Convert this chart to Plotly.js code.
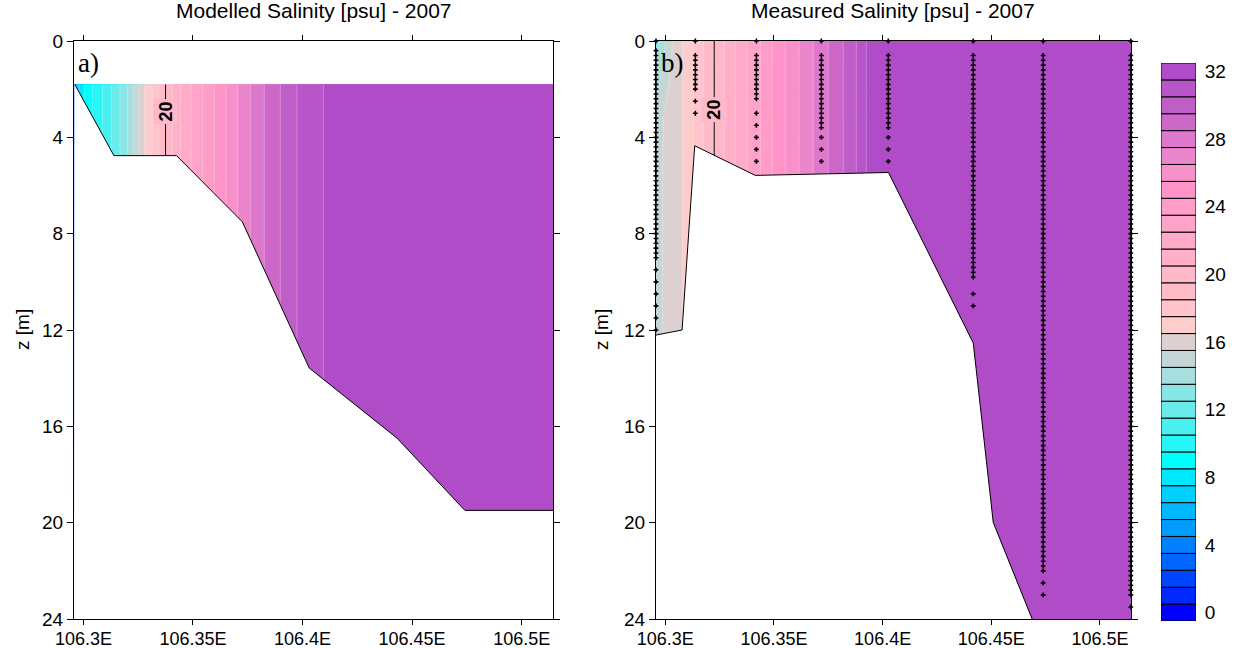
<!DOCTYPE html>
<html>
<head>
<meta charset="utf-8">
<script src="https://cdn.plot.ly/plotly-3.0.1.min.js"></script>
<style>html,body{margin:0;padding:0;background:#fff;}#chart{width:1234px;height:648px;}</style>
</head>
<body>
<div id="chart"></div>
<script>
// ---------------- data ----------------
const lonTicks = [106.3, 106.35, 106.4, 106.45, 106.5];
const lonTickText = ['106.3E', '106.35E', '106.4E', '106.45E', '106.5E'];
const depthTicks = [0, 4, 8, 12, 16, 20, 24];
const lonRange = [106.2957, 106.5143];
const depthRange = [24, 0];

// salinity levels (colour classes) and their colours
const levels = [0,1,2,3,4,5,6,7,8,9,10,11,12,13,14,15,16,17,18,19,20,21,22,23,24,25,26,27,28,29,30,31,32];
const levelColors = ['#0000FF','#0028FF','#0044FF','#0066FF','#0080FF','#009CFF','#00B8FF','#00D0FF','#00E8FF','#00FFFF',
  '#28F6F6','#48F0F0','#6AEAEA','#88E6E6','#A8DEDE','#C4D6D6','#DDD0D0','#FFCCCC','#FFC4CC','#FFBCC8',
  '#FFB8C8','#FFB0C8','#FFAAC8','#FFA4C8','#FF9CC8','#FF94C8','#F890CA','#EC86CC','#DE78CC','#CE68C8',
  '#C05EC8','#B855C8','#B04CC8'];
const colorbarTicks = [0, 4, 8, 12, 16, 20, 24, 28, 32];
const labelLevel = 20;

// a) modelled section: salinity along the transect (same at every model depth)
const lonModel = [106.29604, 106.29695, 106.29800, 106.30027, 106.30410, 106.30865, 106.31275, 106.31667,
  106.32004, 106.32277, 106.32532, 106.32791, 106.33142, 106.33443, 106.33748, 106.34067, 106.34431,
  106.34918, 106.35446, 106.35979, 106.36512, 106.37040, 106.37618, 106.38256, 106.38985, 106.39745,
  106.40956, 106.41717, 106.51430];
const salModel = [6.5, 7, 8, 9, 10, 11, 12, 13, 14, 15, 16, 17, 18, 19, 20, 21, 22, 23, 24, 25, 26, 27, 28,
  29, 30, 31, 32, 32.4, 32.5];
const depthModel = [1.8, 19.49];
const labelDepthModel = 2.95;
const bedLonModel = [106.29604, 106.31393, 106.34249, 106.37254, 106.40305, 106.44312, 106.47408, 106.51430];
const bedDepthModel = [1.8, 4.76, 4.76, 7.51, 13.58, 16.49, 19.49, 19.49];

// b) measured section
const lonMeas = [106.2957, 106.2972, 106.2986, 106.3000, 106.3032, 106.3078, 106.3129, 106.3175, 106.3225,
  106.3271, 106.3322, 106.3377, 106.3437, 106.3492, 106.3552, 106.3616, 106.3681, 106.3750, 106.3819,
  106.3879, 106.3925, 106.4081, 106.5143];
const depthMeas = [0, 1, 2, 3, 5, 24];
const salMeas0m = [13.6, 14.0, 14.5, 15.0, 16.0, 17, 18, 19, 20, 21, 22, 23, 24, 25, 26, 27, 28, 29, 30, 31, 32, 32.5, 32.5];
const salMeas1m = [14.0, 14.4, 14.9, 15.3, 16.1, 17, 18, 19, 20, 21, 22, 23, 24, 25, 26, 27, 28, 29, 30, 31, 32, 32.5, 32.5];
const salMeas2m = [14.9, 15.1, 15.5, 15.8, 16.3, 17, 18, 19, 20, 21, 22, 23, 24, 25, 26, 27, 28, 29, 30, 31, 32, 32.5, 32.5];
const salMeas3m = [15.3, 15.5, 15.9, 16.1, 16.4, 17, 18, 19, 20, 21, 22, 23, 24, 25, 26, 27, 28, 29, 30, 31, 32, 32.5, 32.5];
const salMeas5m = [15.5, 15.8, 16.0, 16.3, 16.6, 17, 18, 19, 20, 21, 22, 23, 24, 25, 26, 27, 28, 29, 30, 31, 32, 32.5, 32.5];
const salMeas24m = [15.5, 15.8, 16.0, 16.3, 16.6, 17, 18, 19, 20, 21, 22, 23, 24, 25, 26, 27, 28, 29, 30, 31, 32, 32.5, 32.5];
const labelDepthMeas = 2.84;
const bedLonMeas = [106.2957, 106.3077, 106.3135, 106.3414, 106.4027, 106.4417, 106.4509, 106.4688];
const bedDepthMeas = [12.21, 12.0, 4.35, 5.58, 5.46, 12.54, 19.99, 24.0];

// CTD stations and their sample depths
const stationLon = [106.2957, 106.3138, 106.3419, 106.3718, 106.4026, 106.4417, 106.4739, 106.5142];
const st1Depth = [0,0.4,0.6,0.8,1,1.2,1.4,1.6,1.8,2,2.2,2.4,2.6,2.8,3,3.2,3.4,3.6,3.8,4,4.2,4.4,4.6,4.8,5,5.2,5.4,5.6,5.8,6,
  6.2,6.4,6.6,6.8,7,7.2,7.4,7.6,7.8,8,8.2,8.4,8.6,8.8,9,9.5,10,10.5,11,11.5,12];
const st2Depth = [0,0.6,0.8,1,1.2,1.4,1.6,1.8,2,2.5,3];
const st3Depth = [0,0.6,0.8,1,1.2,1.4,1.6,1.8,2,2.2,2.4,3,3.5,4,4.5,5];
const st4Depth = [0,0.6,0.8,1,1.2,1.4,1.6,1.8,2,2.2,2.4,2.6,2.8,3,3.2,3.4,3.6,4,4.5,5];
const st5Depth = [0,0.6,0.8,1,1.2,1.4,1.6,1.8,2,2.2,2.4,2.6,2.8,3,3.2,3.4,3.6,4,4.5,5];
const st6Depth = [0,0.6,0.8,1,1.2,1.4,1.6,1.8,2,2.2,2.4,2.6,2.8,3,3.2,3.4,3.6,3.8,4,4.2,4.4,4.6,4.8,5,5.2,5.4,5.6,5.8,6,
  6.2,6.4,6.6,6.8,7,7.2,7.4,7.6,7.8,8,8.2,8.4,8.6,8.8,9,9.2,9.4,9.6,9.8,10.5,11];
const st7Depth = [0,0.6,0.8,1,1.2,1.4,1.6,1.8,2,2.2,2.4,2.6,2.8,3,3.2,3.4,3.6,3.8,4,4.2,4.4,4.6,4.8,5,5.2,5.4,5.6,5.8,6,
  6.2,6.4,6.6,6.8,7,7.2,7.4,7.6,7.8,8,8.2,8.4,8.6,8.8,9,9.2,9.4,9.6,9.8,10,10.2,10.4,10.6,10.8,11,11.2,11.4,11.6,11.8,12,
  12.2,12.4,12.6,12.8,13,13.2,13.4,13.6,13.8,14,14.2,14.4,14.6,14.8,15,15.2,15.4,15.6,15.8,16,16.2,16.4,16.6,16.8,17,
  17.2,17.4,17.6,17.8,18,18.2,18.4,18.6,18.8,19,19.2,19.4,19.6,19.8,20,20.2,20.4,20.6,20.8,21,21.2,21.4,21.6,21.8,22,22.5,23];
const st8Depth = [0,0.6,0.8,1,1.2,1.4,1.6,1.8,2,2.2,2.4,2.6,2.8,3,3.2,3.4,3.6,3.8,4,4.2,4.4,4.6,4.8,5,5.2,5.4,5.6,5.8,6,
  6.2,6.4,6.6,6.8,7,7.2,7.4,7.6,7.8,8,8.2,8.4,8.6,8.8,9,9.2,9.4,9.6,9.8,10,10.2,10.4,10.6,10.8,11,11.2,11.4,11.6,11.8,12,
  12.2,12.4,12.6,12.8,13,13.2,13.4,13.6,13.8,14,14.2,14.4,14.6,14.8,15,15.2,15.4,15.6,15.8,16,16.2,16.4,16.6,16.8,17,
  17.2,17.4,17.6,17.8,18,18.2,18.4,18.6,18.8,19,19.2,19.4,19.6,19.8,20,20.2,20.4,20.6,20.8,21,21.2,21.4,21.6,21.8,22,
  22.2,22.4,22.6,22.8,23,23.5];
const stationDepths = [st1Depth, st2Depth, st3Depth, st4Depth, st5Depth, st6Depth, st7Depth, st8Depth];

// ---------------- build traces ----------------
const FONT = 'Liberation Sans, Arial, sans-serif';
const nLev = levelColors.length;
const stepScale = [];
levelColors.forEach((c, k) => { stepScale.push([k / nLev, c]); stepScale.push([(k + 1) / nLev, c]); });

function fillContour(x, y, z, xa, ya) {
  return {type: 'contour', x: x, y: y, z: z, xaxis: xa, yaxis: ya,
    zmin: 0, zmax: nLev, autocontour: false,
    contours: {start: 0, end: nLev, size: 1, coloring: 'fill', showlines: true},
    line: {width: 0.6, color: 'rgba(255,255,255,0.45)', smoothing: 0},
    colorscale: stepScale, showscale: false, hoverinfo: 'skip'};
}
function lineContour(x, y, z, xa, ya) {
  return {type: 'contour', x: x, y: y, z: z, xaxis: xa, yaxis: ya, autocontour: false,
    contours: {start: labelLevel, end: labelLevel, size: 1, coloring: 'none', showlabels: false},
    line: {width: 1, color: '#000'}, showscale: false, hoverinfo: 'skip'};
}
// sea bed: white mask below the bottom (closed below the axis floor) + black bottom line
const belowFloor = depthRange[0] + 1;
function bedMask(lon, dep, closeLon, xa, ya) {
  return {type: 'scatter', mode: 'none', x: lon.concat(closeLon), y: dep.concat(closeLon.map(() => belowFloor)),
    fill: 'toself', fillcolor: '#ffffff', line: {width: 0}, xaxis: xa, yaxis: ya,
    hoverinfo: 'skip', showlegend: false};
}
function bedLine(lon, dep, xa, ya) {
  return {type: 'scatter', mode: 'lines', x: lon, y: dep, line: {color: '#000', width: 1}, xaxis: xa, yaxis: ya,
    hoverinfo: 'skip', showlegend: false};
}

const zModel = depthModel.map(() => salModel);
const zMeas = [salMeas0m, salMeas1m, salMeas2m, salMeas3m, salMeas5m, salMeas24m];

const dotX = [], dotY = [];
stationDepths.forEach((ds, i) => ds.forEach(d => { dotX.push(stationLon[i]); dotY.push(d); }));

const traces = [
  fillContour(lonModel, depthModel, zModel, 'x', 'y'),
  lineContour(lonModel, depthModel, zModel, 'x', 'y'),
  bedMask(bedLonModel, bedDepthModel, [lonRange[1], lonRange[0]], 'x', 'y'),
  bedLine(bedLonModel, bedDepthModel, 'x', 'y'),
  fillContour(lonMeas, depthMeas, zMeas, 'x2', 'y2'),
  lineContour(lonMeas, depthMeas, zMeas, 'x2', 'y2'),
  bedMask(bedLonMeas, bedDepthMeas, [bedLonMeas[bedLonMeas.length - 1], lonRange[0]], 'x2', 'y2'),
  bedLine(bedLonMeas, bedDepthMeas, 'x2', 'y2'),
  {type: 'scatter', mode: 'markers', x: dotX, y: dotY, xaxis: 'x2', yaxis: 'y2', cliponaxis: false,
    marker: {symbol: 'cross', size: 4, color: '#000', line: {width: 0}}, hoverinfo: 'skip', showlegend: false},
  {type: 'bar', x: levels.map(() => 0), y: levels.map(() => 1), base: levels.map(v => v - 0.5), width: 1,
    xaxis: 'x3', yaxis: 'y3', marker: {color: levelColors, line: {color: '#000', width: 1}},
    hoverinfo: 'skip', showlegend: false}
];

// ---------------- layout (plot edges on whole pixels) ----------------
const W = 1234, H = 648;
const px = v => v / W, py = v => 1 - v / H;
const TICKFONT = {family: FONT, size: 19, color: '#000'};
const XTICKFONT = {family: FONT, size: 18, color: '#000'};
const xAxisBase = {range: lonRange, tickvals: lonTicks, ticktext: lonTickText, ticks: 'outside', ticklen: 5,
  tickwidth: 1, tickcolor: '#000', mirror: 'ticks', showline: true, linecolor: '#000', linewidth: 1,
  showgrid: false, zeroline: false, tickfont: XTICKFONT, ticklabelstandoff: -2, fixedrange: true};
const yAxisBase = {range: depthRange, tickvals: depthTicks, ticks: 'outside', ticklen: 6, tickwidth: 1,
  tickcolor: '#000', mirror: 'ticks', showline: true, linecolor: '#000', linewidth: 1, showgrid: false,
  zeroline: false, tickfont: TICKFONT, fixedrange: true};

const label20 = (xref, yref, lon, depth) => ({text: String(labelLevel), xref: xref, yref: yref, x: lon, y: depth,
  textangle: -90, showarrow: false, xanchor: 'center', yanchor: 'middle', bgcolor: levelColors[labelLevel],
  borderpad: 2, font: {family: FONT, size: 18, color: '#000', weight: 'bold'}});

const layout = {
  width: W, height: H, margin: {l: 0, r: 0, t: 0, b: 0}, paper_bgcolor: '#fff', plot_bgcolor: '#fff',
  showlegend: false, hovermode: false, font: {family: FONT, color: '#000'},
  xaxis: Object.assign({}, xAxisBase, {domain: [px(74), px(553)], anchor: 'y'}),
  yaxis: Object.assign({}, yAxisBase, {domain: [py(619), py(41)], anchor: 'x'}),
  xaxis2: Object.assign({}, xAxisBase, {domain: [px(656), px(1131)], anchor: 'y2'}),
  yaxis2: Object.assign({}, yAxisBase, {domain: [py(619), py(41)], anchor: 'x2'}),
  xaxis3: {domain: [px(1161), px(1196)], anchor: 'y3', range: [-0.5, 0.5], visible: false, fixedrange: true},
  yaxis3: {domain: [py(621), py(63)], anchor: 'x3', side: 'right', range: [-0.5, 32.5], tickvals: colorbarTicks,
    ticks: 'outside', ticklen: 4, tickcolor: 'rgba(0,0,0,0)', showline: false, showgrid: false, zeroline: false,
    fixedrange: true, tickfont: TICKFONT},
  annotations: [
    {text: 'Modelled Salinity [psu] - 2007', xref: 'paper', yref: 'paper', x: px(313.6), y: py(11),
      xanchor: 'center', yanchor: 'middle', showarrow: false, font: {family: FONT, size: 21, color: '#000'}},
    {text: 'Measured Salinity [psu] - 2007', xref: 'paper', yref: 'paper', x: px(893.2), y: py(11),
      xanchor: 'center', yanchor: 'middle', showarrow: false, font: {family: FONT, size: 21, color: '#000'}},
    {text: 'z [m]', xref: 'paper', yref: 'paper', x: px(22), y: py(330), textangle: -90,
      xanchor: 'center', yanchor: 'middle', showarrow: false, font: {family: FONT, size: 19, color: '#000'}},
    {text: 'z [m]', xref: 'paper', yref: 'paper', x: px(601), y: py(330), textangle: -90,
      xanchor: 'center', yanchor: 'middle', showarrow: false, font: {family: FONT, size: 19, color: '#000'}},
    {text: 'a)', xref: 'paper', yref: 'paper', x: px(76), y: py(63), xanchor: 'left', yanchor: 'middle',
      showarrow: false, font: {family: 'Liberation Serif, Times New Roman, serif', size: 27, color: '#000'}},
    {text: 'b)', xref: 'paper', yref: 'paper', x: px(659), y: py(63), xanchor: 'left', yanchor: 'middle',
      showarrow: false, font: {family: 'Liberation Serif, Times New Roman, serif', size: 27, color: '#000'}},
    label20('x', 'y', lonModel[salModel.indexOf(labelLevel)], labelDepthModel),
    label20('x2', 'y2', lonMeas[salMeas0m.indexOf(labelLevel)], labelDepthMeas)
  ]
};

Plotly.newPlot('chart', traces, layout, {staticPlot: true, displayModeBar: false});
</script>
</body>
</html>
